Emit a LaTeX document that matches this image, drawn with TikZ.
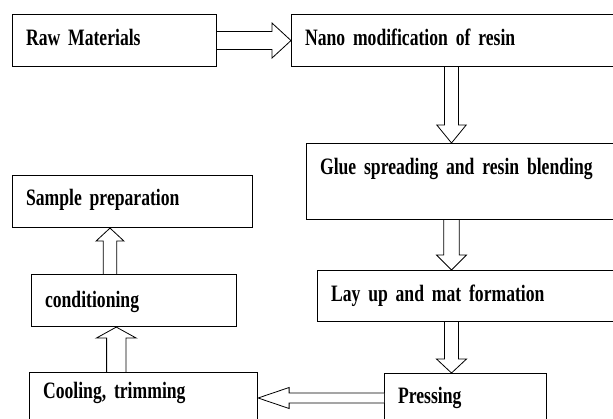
\documentclass[tikz,border=0pt]{standalone}
\usepackage{fontspec}
\setmainfont{Liberation Serif}[FakeStretch=0.75]
\usepackage{tikz}
\usetikzlibrary{calc}

\newcommand{\boxfont}{\fontsize{23.5}{28}\selectfont\bfseries\spaceskip=4.2pt\relax}

% hollow block arrow: tail, tip, shaft half width, head half width, head length
\newcommand{\bigarrow}[5]{%
  \path let \p1=(#1), \p2=(#2),
    \n1={veclen(\x2-\x1,\y2-\y1)}, \n2={atan2(\y2-\y1,\x2-\x1)} in
    \pgfextra{\xdef\arrlen{\n1}\xdef\arrang{\n2}};
  \pgfmathsetmacro{\arrneck}{\arrlen-#5pt}
  \draw[fatarrow, shift={(#1)}, rotate=\arrang]
    (0pt,-#3pt) -- (\arrneck pt,-#3pt) -- (\arrneck pt,-#4pt) -- (\arrlen,0pt)
    -- (\arrneck pt,#4pt) -- (\arrneck pt,#3pt) -- (0pt,#3pt);
}

\begin{document}
\begin{tikzpicture}[x=1pt, y=-1pt,
    stepbox/.style={draw, line width=1.1pt, anchor=north west, align=left,
      inner xsep=13.5pt, inner ysep=0pt, text height=31pt, font=\boxfont},
    fatarrow/.style={draw, line width=0.8pt, fill=white, line join=miter}]
    \useasboundingbox (0,0) rectangle (613,419);
    \clip (0,0) rectangle (613,419);

    % Right column
    \node[stepbox, text width=177pt, text depth=21pt] (raw) at (12,14) {Raw Materials};
    \node[stepbox, text width=307pt, text depth=21pt] (nano) at (291,14) {Nano modification of resin};
    \node[stepbox, text width=292pt, text depth=45pt] (glue) at (306,143) {Glue spreading and resin blending};
    \node[stepbox, text width=281pt, text depth=20pt] (lay) at (317,270) {Lay up and mat formation};
    \node[stepbox, text width=135pt, text height=30pt, text depth=37pt] (press) at (384,373) {Pressing};

    % Left column
    \node[stepbox, text width=201pt, text height=26pt, text depth=42pt] (cool) at (29,372) {Cooling, trimming};
    \node[stepbox, text width=178pt, text height=33pt, text depth=19pt] (cond) at (31,274) {conditioning};
    \node[stepbox, text width=213pt, text height=30pt, text depth=22pt] (sample) at (12,175) {Sample preparation};

    % Arrow lines
    \coordinate (axis) at (451.5,0);
    \coordinate (row) at (0,398);
    \coordinate (upa) at (116.3,0);
    \coordinate (upb) at (110,0);

    \bigarrow{raw.east}{nano.west}{9}{17.5}{19}
    \bigarrow{nano.south -| axis}{glue.north -| axis}{7}{14.7}{18}
    \bigarrow{glue.south -| axis}{lay.north -| axis}{7.8}{15}{15}
    \bigarrow{lay.south -| axis}{press.north -| axis}{7}{15}{14}
    \bigarrow{press.west |- row}{cool.east |- row}{5}{10.5}{31}
    \bigarrow{cool.north -| upa}{cond.south -| upa}{9.7}{20}{11}
    \bigarrow{cond.north -| upb}{sample.south -| upb}{6.7}{14}{13}
\end{tikzpicture}
\end{document}
